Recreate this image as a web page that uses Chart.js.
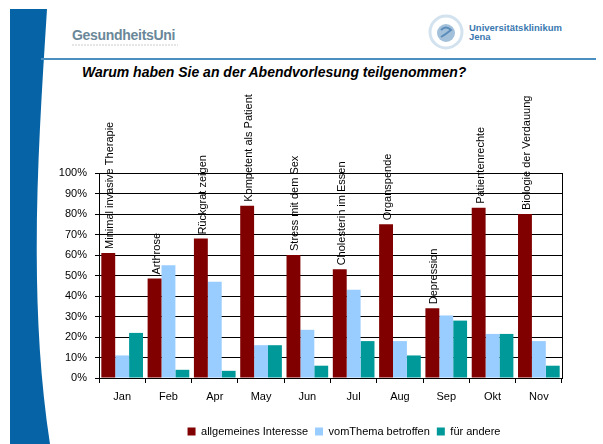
<!DOCTYPE html>
<html>
<head>
<meta charset="utf-8">
<script src="https://cdn.jsdelivr.net/npm/chart.js@4/dist/chart.umd.min.js"></script>
<style>
  body { margin: 0; background: #fff; }
  #slide { position: relative; width: 603px; height: 444px; overflow: hidden; font-family: 'Liberation Sans', Arial, sans-serif; }
  #myChart { position: absolute; left: 0; top: 0; }
  .title { position: absolute; left: 82px; top: 64px; font-size: 14px; font-weight: bold; font-style: italic; color: #000; white-space: nowrap; }
  .gu { position: absolute; left: 72px; top: 27px; font-size: 14px; font-weight: bold; color: #6a8799; letter-spacing: -0.3px; }
  .ukj { position: absolute; left: 469px; top: 23px; font-size: 9.5px; font-weight: bold; color: #3a78b0; line-height: 9px; }
</style>
</head>
<body>
<div id="slide">
  <svg width="603" height="444" style="position:absolute;left:0;top:0">
    <path d="M10,9 L47,9 C38,150 28,300 50,444 L10,444 Z" fill="#0563A6"/>
    <line x1="41" y1="59" x2="596" y2="59" stroke="#4a8fc0" stroke-width="2"/>
    <line x1="72" y1="45" x2="178" y2="45" stroke="#c8ccd0" stroke-width="1" stroke-dasharray="2,1"/>
    <circle cx="446" cy="32" r="16" fill="none" stroke="#d3e2ef" stroke-width="3"/>
    <circle cx="446" cy="33" r="9" fill="#a3c0db"/>
    <path d="M441,30 Q446,25 451,30 Q446,34 441,37" fill="none" stroke="#5a8cba" stroke-width="2"/>
  </svg>
  <div class="gu">GesundheitsUni</div>
  <div class="ukj">Universitätsklinikum<br>Jena</div>
  <div class="title">Warum haben Sie an der Abendvorlesung teilgenommen?</div>
  <canvas id="myChart" width="603" height="444"></canvas>
</div>
<script>
var months = ['Jan', 'Feb', 'Apr', 'May', 'Jun', 'Jul', 'Aug', 'Sep', 'Okt', 'Nov'];
var topics = ['Minimal invasive Therapie', 'Arthrose', 'Rückgrat zeigen', 'Kompetent als Patient', 'Stress mit dem Sex',
  'Cholesterin im Essen', 'Organspende', 'Depression', 'Patientenrechte', 'Biologie der Verdauung'];
var allgemein = [61, 48.5, 68, 84, 60, 53, 75, 34, 83, 80];
var betroffen = [11, 55, 47, 16, 23.5, 43, 18, 30.5, 21.5, 18];
var andere = [22, 4, 3.5, 16, 6, 18, 11, 28, 21.5, 6];
var seriesNames = ['allgemeines Interesse', 'vomThema betroffen', 'für andere'];

var fontFam = "'Liberation Sans', Arial, sans-serif";

// topic names written upright above the red bars
var topicLabels = {
  id: 'topicLabels',
  afterDatasetsDraw: function(chart) {
    var ctx = chart.ctx;
    var meta = chart.getDatasetMeta(0);
    ctx.save();
    ctx.font = '11px ' + fontFam;
    ctx.fillStyle = '#000';
    ctx.textAlign = 'left';
    ctx.textBaseline = 'middle';
    meta.data.forEach(function(bar, i) {
      ctx.save();
      ctx.translate(bar.x + 2, bar.y - 4);
      ctx.rotate(-Math.PI / 2);
      ctx.fillText(topics[i], 0, 0);
      ctx.restore();
    });
    ctx.restore();
  }
};

var frame = {
  id: 'frame',
  afterLayout: function(chart) {
    chart.legend.left += 63;
    chart.legend.right += 63;
  },
  afterDraw: function(chart) {
    var a = chart.chartArea, ctx = chart.ctx;
    ctx.save();
    ctx.strokeStyle = '#000';
    ctx.lineWidth = 1;
    ctx.beginPath();
    ctx.moveTo(Math.round(a.right) + 0.5, a.top);
    ctx.lineTo(Math.round(a.right) + 0.5, a.bottom);
    ctx.stroke();
    ctx.restore();
  }
};

var ctx = document.getElementById('myChart').getContext('2d');
var myChart = new Chart(ctx, {
  type: 'bar',
  data: {
    labels: months,
    datasets: [
      { label: seriesNames[0], data: allgemein, backgroundColor: '#800000' },
      { label: seriesNames[1], data: betroffen, backgroundColor: '#99CCFF' },
      { label: seriesNames[2], data: andere, backgroundColor: '#009999' }
    ]
  },
  options: {
    responsive: false,
    animation: false,
    layout: { padding: { left: 0, right: 41, top: 173, bottom: -3 } },
    datasets: { bar: { categoryPercentage: 0.9, barPercentage: 1.0 } },
    plugins: {
      tooltip: { enabled: false },
      legend: {
        position: 'bottom',
        labels: { boxWidth: 8, boxHeight: 8, padding: 7, color: '#000', font: { family: fontFam, size: 11 } }
      }
    },
    scales: {
      x: {
        grid: { display: true, drawOnChartArea: false, offset: true, tickLength: 5, color: '#000' },
        border: { color: '#000' },
        ticks: { color: '#000', padding: 7, maxRotation: 0, font: { family: fontFam, size: 11 } },
        afterFit: function(scale) { scale.height = 41; }
      },
      y: {
        min: 0, max: 100,
        grid: { color: '#000', tickLength: 4 },
        border: { color: '#000' },
        ticks: { stepSize: 10, color: '#000', padding: 8, font: { family: fontFam, size: 11 },
          callback: function(v) { return v + '%'; } },
        afterFit: function(scale) { scale.width = 99; }
      }
    }
  },
  plugins: [topicLabels, frame]
});
</script>
</body>
</html>
